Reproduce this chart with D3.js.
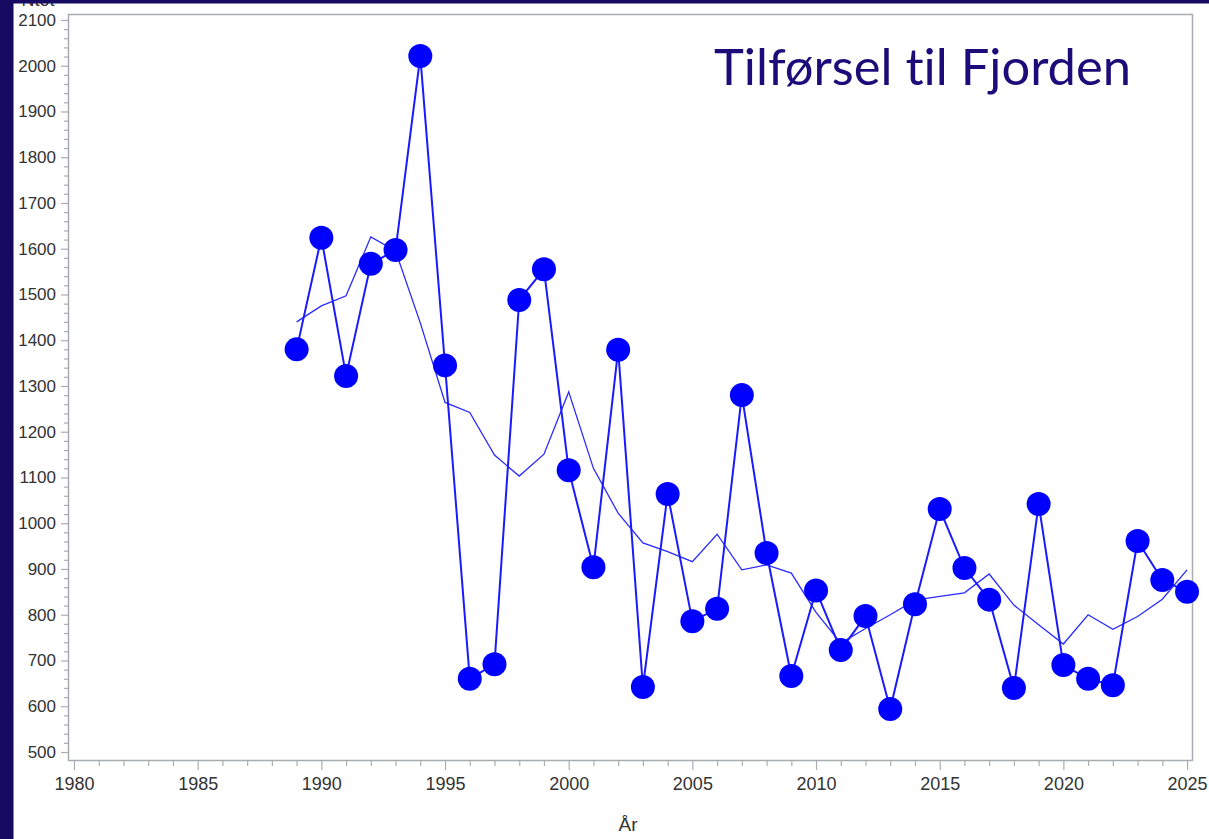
<!DOCTYPE html>
<html>
<head>
<meta charset="utf-8">
<script src="https://cdn.jsdelivr.net/npm/d3@7"></script>
<style>
  html, body { margin: 0; padding: 0; background: #ffffff; }
  svg { display: block; }
</style>
</head>
<body>
<svg id="chart" width="1209" height="839"></svg>
<script>
// Annual input to the fjord (Ntot) and its running mean
const years = [1989, 1990, 1991, 1992, 1993, 1994, 1995, 1996, 1997, 1998,
               1999, 2000, 2001, 2002, 2003, 2004, 2005, 2006, 2007, 2008,
               2009, 2010, 2011, 2012, 2013, 2014, 2015, 2016, 2017, 2018,
               2019, 2020, 2021, 2022, 2023, 2024, 2025];
const annual = [1380, 1624, 1322, 1567, 1597, 2021, 1345, 660, 692, 1488,
                1555, 1116, 904, 1379, 642, 1064, 786, 813, 1280, 935,
                666, 853, 723, 797, 594, 823, 1031, 902, 833, 640,
                1042, 690, 660, 646, 961, 876, 850];
const runningMean = [1440, 1475, 1497, 1626, 1595, 1438, 1264, 1242, 1149, 1103,
                     1151, 1287, 1120, 1022, 957, 938, 916, 976, 898, 909,
                     891, 805, 738, 770, 800, 832, 840, 848, 889, 821,
                     778, 736, 800, 768, 796, 834, 898];
const yMajorTicks = [500, 600, 700, 800, 900, 1000, 1100, 1200, 1300, 1400,
                     1500, 1600, 1700, 1800, 1900, 2000, 2100];
const xMajorTicks = [1980, 1985, 1990, 1995, 2000, 2005, 2010, 2015, 2020, 2025];
const titleText = "Tilførsel til Fjorden";
const yTitle = "Ntot";
const xTitle = "År";

const svg = d3.select("#chart");
const frame = { left: 68, right: 1192, top: 14, bottom: 760 };
const dark = "#170a63";
const axisGray = "#a9adb1";
const textGray = "#333333";

const x = d3.scaleLinear().domain([1979.757, 2025.2]).range([frame.left, frame.right]);
const y = d3.scaleLinear().domain([482.5, 2113]).range([frame.bottom, frame.top]);

// y-axis title (mostly hidden under the top band)
svg.append("text")
  .attr("x", 38).attr("y", 6)
  .attr("text-anchor", "middle")
  .attr("font-family", "Liberation Sans, Arial, sans-serif")
  .attr("font-size", 18)
  .attr("fill", textGray)
  .text(yTitle);

// Plot frame
svg.append("rect")
  .attr("x", frame.left + 0.5).attr("y", frame.top + 0.5)
  .attr("width", frame.right - frame.left).attr("height", frame.bottom - frame.top)
  .attr("fill", "none").attr("stroke", axisGray).attr("stroke-width", 1.5);

// Y axis: major and minor ticks
const yMinor = d3.range(500, 2101, 20).filter(v => v % 100 !== 0);
const yAxisMinor = d3.axisLeft(y).tickValues(yMinor).tickSize(4).tickFormat("");
const yAxisMajor = d3.axisLeft(y).tickValues(yMajorTicks).tickSize(7).tickPadding(5)
  .tickFormat(d3.format("d"));
[yAxisMinor, yAxisMajor].forEach(ax => {
  const g = svg.append("g").attr("transform", `translate(${frame.left},0)`).call(ax);
  g.select(".domain").remove();
  g.selectAll("line").attr("stroke", axisGray).attr("stroke-width", 1.2);
  g.selectAll("text").attr("font-family", "Liberation Sans, Arial, sans-serif")
    .attr("font-size", 17).attr("fill", textGray);
});

// X axis: major and minor ticks
const xMinor = d3.range(1980, 2026, 1).filter(v => v % 5 !== 0);
const xAxisMinor = d3.axisBottom(x).tickValues(xMinor).tickSize(6).tickFormat("");
const xAxisMajor = d3.axisBottom(x).tickValues(xMajorTicks).tickSize(10).tickPadding(7)
  .tickFormat(d3.format("d"));
[xAxisMinor, xAxisMajor].forEach(ax => {
  const g = svg.append("g").attr("transform", `translate(0,${frame.bottom})`).call(ax);
  g.select(".domain").remove();
  g.selectAll("line").attr("stroke", axisGray).attr("stroke-width", 1.2);
  g.selectAll("text").attr("font-family", "Liberation Sans, Arial, sans-serif")
    .attr("font-size", 18).attr("fill", textGray);
});

// x-axis title
svg.append("text")
  .attr("x", 628).attr("y", 831)
  .attr("text-anchor", "middle")
  .attr("font-family", "Liberation Sans, Arial, sans-serif")
  .attr("font-size", 19)
  .attr("fill", textGray)
  .text(xTitle);

// Running mean (thin line)
const meanData = years.map((yr, i) => [yr, runningMean[i]]);
svg.append("path")
  .datum(meanData)
  .attr("fill", "none")
  .attr("stroke", "#2a2aff")
  .attr("stroke-width", 1.3)
  .attr("d", d3.line().x(d => x(d[0])).y(d => y(d[1])));

// Annual values: connecting line and markers
const annualData = years.map((yr, i) => [yr, annual[i]]);
svg.append("path")
  .datum(annualData)
  .attr("fill", "none")
  .attr("stroke", "#1a1aff")
  .attr("stroke-width", 2)
  .attr("d", d3.line().x(d => x(d[0])).y(d => y(d[1])));

svg.append("g").selectAll("circle")
  .data(annualData)
  .join("circle")
  .attr("cx", d => x(d[0]))
  .attr("cy", d => y(d[1]))
  .attr("r", 12)
  .attr("fill", "#0000ff");

// Title inside the plot area
svg.append("text")
  .attr("x", 714).attr("y", 85)
  .attr("font-family", "Lato, 'Noto Sans', sans-serif")
  .attr("font-weight", 400)
  .attr("font-size", 50)
  .attr("textLength", 417)
  .attr("lengthAdjust", "spacingAndGlyphs")
  .style("font-variant-ligatures", "none")
  .style("font-feature-settings", "'liga' 0, 'clig' 0")
  .attr("fill", "#1c0b78")
  .text(titleText);

// Dark page edges (left and top)
svg.append("rect").attr("x", 0).attr("y", 0).attr("width", 1209).attr("height", 3.5).attr("fill", dark);
svg.append("rect").attr("x", 0).attr("y", 0).attr("width", 13.5).attr("height", 839).attr("fill", dark);
</script>
</body>
</html>
